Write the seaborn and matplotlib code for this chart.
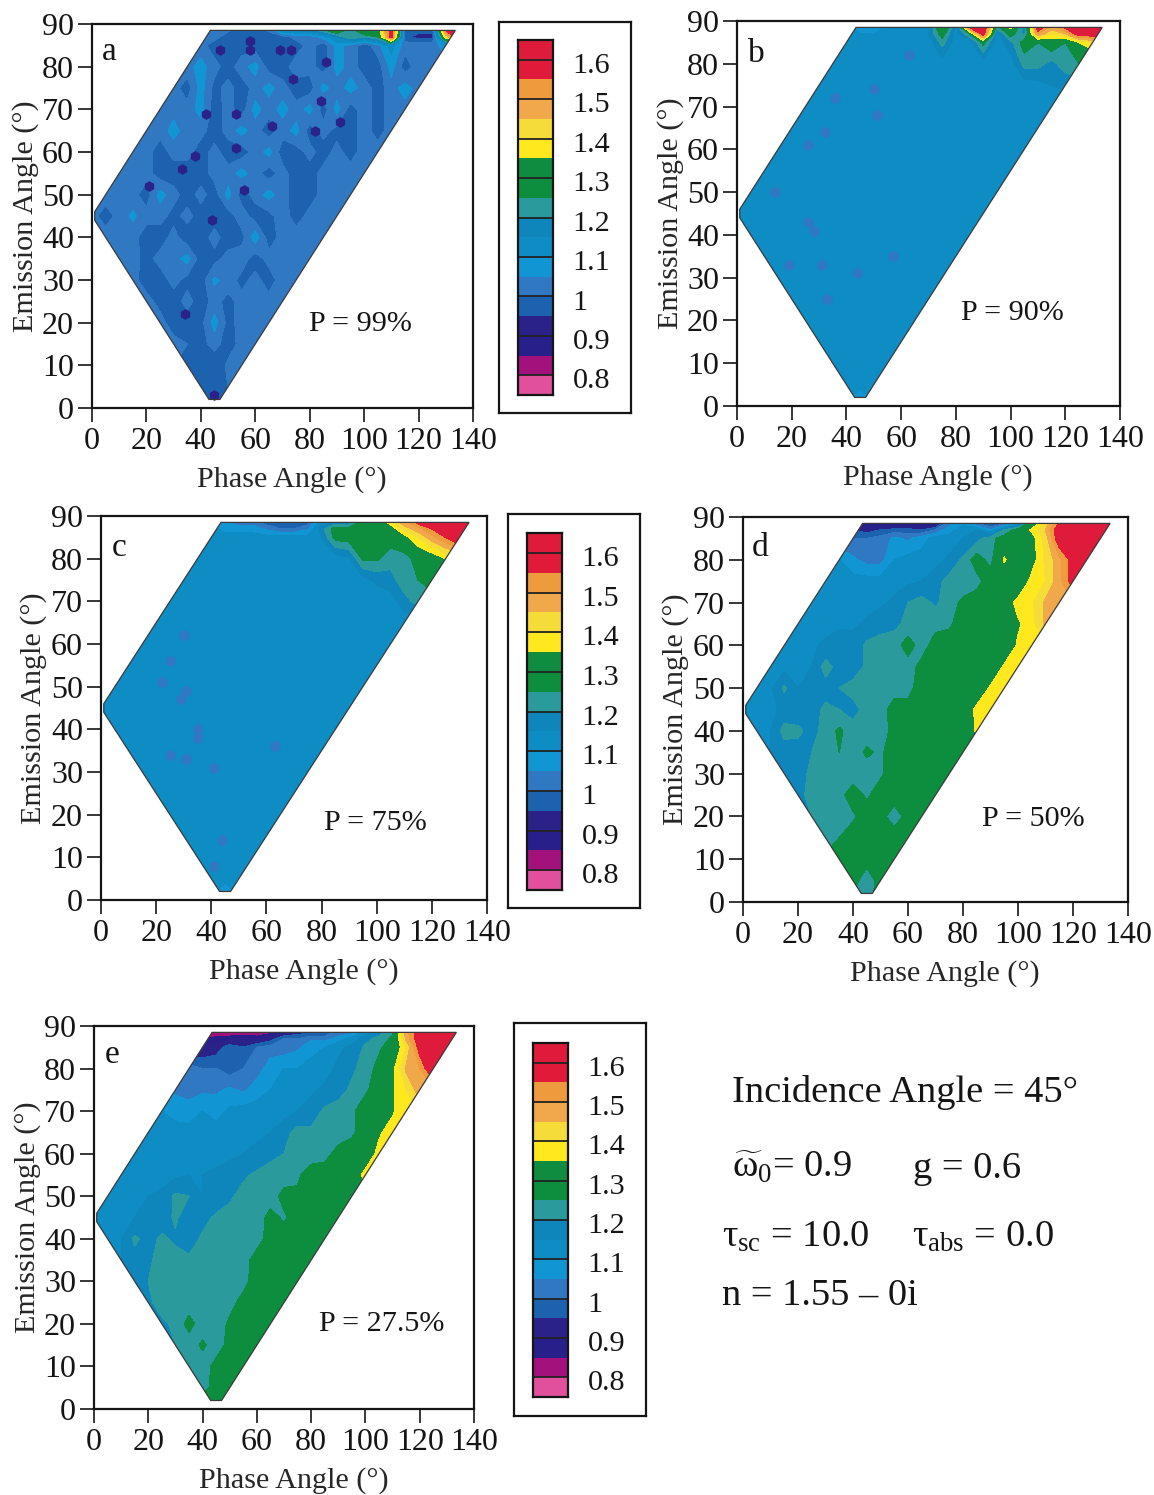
import numpy as np
import seaborn as sns
import matplotlib.pyplot as plt
from matplotlib.colors import ListedColormap
from matplotlib.patches import Polygon

# emission angles of the rows below, phase columns every 5 deg
emission = [2, 5, 10, 15, 20, 25, 30, 35, 40, 45, 50, 55, 60, 65, 70, 75, 80, 85, 87, 89]
phase = list(range(0, 145, 5))
incidence = 45

# ratio x 100, every row starts at its left edge of the wedge
panel_a = [
    [98, 94, 98],
    [98, 97, 100],
    [100, 97, 96, 101, 102],
    [102, 100, 98, 102, 97, 102, 103],
    [102, 97, 97, 98, 107, 98, 102, 103, 103],
    [102, 98, 97, 102, 97, 102, 98, 102, 103, 102, 103],
    [102, 97, 97, 102, 98, 97, 106, 103, 98, 102, 97, 103, 103],
    [103, 102, 98, 102, 103, 107, 97, 98, 102, 103, 97, 102, 103, 103, 103],
    [103, 103, 102, 97, 97, 102, 96, 97, 102, 97, 98, 108, 97, 102, 103, 103, 103],
    [102, 97, 102, 106, 102, 102, 98, 102, 97, 97, 97, 103, 97, 98, 103, 97, 102, 103, 103],
    [103, 102, 102, 97, 107, 102, 97, 102, 97, 107, 97, 102, 107, 102, 97, 97, 102, 103, 103],
    [103, 103, 102, 97, 97, 97, 97, 102, 102, 107, 102, 97, 102, 97, 97, 102, 103, 103, 103],
    [103, 102, 97, 102, 102, 97, 102, 97, 97, 102, 107, 97, 97, 102, 97, 102, 97, 103, 103],
    [103, 102, 107, 102, 102, 97, 102, 107, 102, 97, 102, 107, 97, 102, 98, 97, 103, 97, 103],
    [102, 103, 102, 107, 97, 102, 97, 107, 102, 107, 102, 107, 97, 107, 97, 103, 97, 103, 103],
    [102, 97, 107, 98, 102, 97, 102, 107, 102, 97, 97, 107, 102, 107, 103, 97, 103, 107, 103],
    [103, 107, 102, 97, 103, 107, 97, 97, 103, 102, 97, 107, 103, 97, 97, 107, 97, 103, 103],
    [102, 97, 97, 97, 97, 97, 97, 97, 102, 97, 107, 103, 97, 103, 112, 102, 103, 103, 107],
    [102, 102, 97, 97, 97, 97, 97, 102, 102, 107, 115, 125, 120, 125, 160, 97, 92, 92, 140, 165],
    [102, 102, 102, 97, 97, 102, 120, 120, 122, 128, 140, 125, 140, 130, 160, 100, 100, 100, 160, 165],
]
panel_b = [
    [112, 106, 112],
    [112, 112, 112],
    [112, 112, 112, 112, 112],
    [112, 112, 112, 112, 112, 112, 112],
    [112, 112, 112, 112, 112, 112, 112, 112, 112],
    [112, 112, 112, 112, 112, 112, 112, 112, 112, 112, 112],
    [112, 112, 112, 112, 112, 112, 112, 112, 112, 112, 112, 112, 112],
    [112, 112, 112, 112, 112, 112, 112, 112, 112, 112, 112, 112, 112, 112, 112],
    [112, 112, 112, 112, 112, 112, 112, 112, 112, 112, 112, 112, 112, 112, 112, 112, 112],
    [112, 112, 112, 112, 112, 112, 112, 112, 112, 112, 112, 112, 112, 112, 112, 112, 112, 112, 112],
    [112, 112, 112, 112, 112, 112, 112, 112, 112, 112, 112, 112, 112, 112, 112, 112, 112, 112, 112],
    [112, 112, 112, 112, 112, 112, 112, 112, 112, 112, 112, 112, 112, 112, 112, 112, 112, 112, 112],
    [112, 112, 112, 112, 112, 112, 112, 112, 112, 112, 112, 112, 112, 112, 112, 112, 112, 112, 112],
    [112, 112, 112, 112, 112, 112, 112, 112, 112, 112, 112, 112, 112, 112, 112, 112, 112, 112, 112],
    [112, 112, 112, 112, 112, 112, 112, 112, 112, 112, 112, 112, 112, 112, 112, 112, 112, 112, 112],
    [112, 112, 112, 112, 112, 112, 112, 112, 112, 112, 112, 112, 112, 112, 112, 112, 113, 115, 116],
    [112, 112, 112, 112, 112, 112, 112, 112, 112, 112, 112, 112, 112, 112, 122, 122, 118, 123, 125],
    [112, 112, 112, 112, 112, 112, 112, 122, 112, 112, 127, 112, 118, 128, 125, 130, 125, 135, 140],
    [112, 110, 110, 112, 112, 112, 115, 128, 112, 125, 160, 112, 128, 118, 150, 140, 145, 160, 160, 165],
    [112, 106, 106, 110, 112, 112, 112, 138, 115, 165, 165, 125, 140, 115, 165, 150, 160, 165, 165, 165],
]
panel_c = [
    [112, 106, 112],
    [112, 112, 112],
    [112, 112, 112, 112, 112],
    [112, 112, 112, 112, 112, 112, 112],
    [112, 112, 112, 112, 112, 112, 112, 112, 112],
    [112, 112, 112, 112, 112, 112, 112, 112, 112, 112, 112],
    [112, 112, 112, 112, 112, 112, 112, 112, 112, 112, 112, 112, 112],
    [112, 112, 112, 112, 112, 112, 112, 112, 112, 112, 112, 112, 112, 112, 112],
    [112, 112, 112, 112, 112, 112, 112, 112, 112, 112, 112, 112, 112, 112, 112, 112, 112],
    [112, 112, 112, 112, 112, 112, 112, 112, 112, 112, 112, 112, 112, 112, 112, 112, 112, 112, 112],
    [112, 112, 112, 112, 112, 112, 112, 112, 112, 112, 112, 112, 112, 112, 112, 112, 112, 112, 112],
    [112, 112, 112, 112, 112, 112, 112, 112, 112, 112, 112, 112, 112, 112, 112, 112, 112, 112, 112],
    [112, 112, 112, 112, 112, 112, 112, 112, 112, 112, 112, 112, 112, 112, 112, 112, 112, 112, 112],
    [112, 112, 112, 112, 112, 112, 112, 112, 112, 112, 112, 112, 112, 112, 112, 112, 112, 112, 112],
    [112, 112, 112, 112, 112, 112, 112, 112, 112, 112, 112, 112, 112, 112, 112, 112, 112, 118, 122],
    [112, 112, 112, 112, 112, 112, 112, 112, 112, 112, 112, 112, 112, 113, 116, 118, 123, 125, 128],
    [112, 112, 112, 112, 112, 112, 112, 112, 112, 112, 112, 114, 126, 126, 122, 122, 128, 130, 135],
    [112, 112, 112, 112, 112, 112, 112, 112, 115, 127, 128, 127, 130, 128, 132, 140, 148, 155, 165],
    [112, 108, 108, 108, 104, 100, 100, 104, 118, 128, 128, 126, 130, 130, 142, 148, 155, 165, 165, 165],
    [112, 104, 100, 100, 95, 92, 92, 95, 112, 112, 112, 125, 130, 140, 150, 160, 165, 165, 165, 165],
]
panel_d = [
    [125, 122, 128],
    [127, 122, 127],
    [126, 128, 127, 128, 128],
    [122, 125, 128, 128, 127, 128, 128],
    [120, 122, 122, 124, 128, 127, 122, 127, 128],
    [118, 122, 122, 123, 128, 124, 128, 128, 128, 128, 128],
    [116, 118, 121, 125, 122, 122, 122, 124, 128, 128, 128, 128, 128],
    [115, 117, 118, 120, 123, 125, 122, 126, 124, 128, 128, 128, 128, 128, 128],
    [113, 115, 122, 121, 118, 122, 126, 122, 122, 122, 127, 128, 128, 128, 128, 128, 136],
    [113, 113, 114, 116, 117, 118, 121, 120, 118, 122, 122, 128, 127, 128, 128, 128, 128, 137, 138],
    [113, 114, 121, 115, 116, 118, 120, 122, 122, 121, 122, 123, 128, 128, 128, 128, 128, 136, 138],
    [113, 113, 114, 115, 122, 118, 117, 121, 122, 122, 122, 127, 128, 128, 128, 128, 128, 136, 138],
    [113, 113, 114, 116, 118, 117, 121, 122, 122, 128, 122, 128, 128, 127, 128, 129, 128, 136, 138],
    [112, 112, 113, 114, 114, 116, 118, 119, 121, 122, 123, 124, 128, 128, 128, 130, 134, 138, 146],
    [112, 112, 112, 113, 113, 114, 116, 120, 122, 119, 123, 126, 128, 128, 131, 137, 139, 146, 150],
    [112, 112, 112, 112, 112, 113, 114, 115, 118, 122, 122, 123, 128, 128, 128, 137, 140, 148, 158],
    [110, 106, 103, 103, 110, 112, 112, 113, 116, 121, 128, 123, 136, 128, 132, 141, 148, 158, 162],
    [100, 100, 102, 106, 104, 108, 112, 112, 115, 118, 123, 128, 128, 132, 142, 160, 165, 165, 165],
    [95, 92, 95, 97, 97, 95, 100, 108, 112, 115, 105, 120, 128, 136, 145, 160, 165, 165, 165, 165],
    [90, 85, 78, 78, 78, 78, 80, 100, 108, 95, 90, 90, 100, 125, 140, 155, 165, 165, 165, 165],
]
panel_e = [
    [127, 128, 128],
    [123, 127, 128],
    [121, 122, 127, 128, 128],
    [120, 122, 126, 122, 127, 128, 128],
    [119, 121, 127, 122, 122, 126, 128, 128, 128],
    [119, 122, 121, 122, 123, 124, 123, 127, 128, 128, 128],
    [117, 120, 121, 122, 125, 122, 122, 122, 123, 128, 128, 128, 128],
    [115, 118, 119, 122, 122, 121, 122, 122, 122, 123, 127, 128, 128, 128, 128],
    [113, 115, 121, 118, 121, 119, 117, 121, 122, 122, 122, 123, 127, 128, 128, 128, 128],
    [113, 114, 115, 115, 116, 117, 121, 116, 118, 121, 122, 122, 122, 127, 124, 128, 128, 128, 128],
    [113, 113, 114, 115, 116, 121, 120, 115, 116, 119, 122, 122, 122, 127, 126, 128, 128, 128, 132],
    [112, 112, 113, 113, 114, 115, 115, 116, 117, 119, 121, 123, 122, 124, 128, 128, 128, 130, 137],
    [112, 112, 112, 112, 112, 113, 113, 114, 115, 116, 118, 120, 123, 122, 123, 127, 128, 130, 137],
    [112, 112, 112, 112, 112, 112, 112, 113, 114, 115, 118, 122, 121, 122, 122, 124, 128, 134, 138],
    [110, 108, 107, 110, 108, 111, 112, 112, 112, 113, 115, 117, 121, 122, 124, 128, 128, 134, 140],
    [104, 103, 104, 104, 106, 104, 108, 110, 112, 113, 114, 116, 118, 121, 124, 128, 134, 140, 148],
    [102, 100, 100, 97, 100, 102, 108, 110, 110, 112, 113, 116, 119, 122, 127, 133, 146, 150, 162],
    [90, 92, 98, 95, 100, 102, 102, 104, 108, 110, 114, 116, 121, 124, 128, 140, 158, 165, 165],
    [85, 87, 88, 90, 88, 92, 100, 100, 104, 103, 107, 112, 118, 122, 126, 146, 160, 165, 165, 165],
    [78, 78, 78, 78, 78, 80, 84, 90, 90, 92, 100, 100, 110, 115, 124, 148, 160, 165, 165, 165],
]
panel_names = ["a", "b", "c", "d", "e"]
panel_text = ["P = 99%", "P = 90%", "P = 75%", "P = 50%", "P = 27.5%"]

# small low patches that fall between the grid nodes
a_spot_phase = [47, 58, 69, 73, 86, 42, 53, 66, 82, 91, 53, 33, 21, 44, 34, 74, 84, 56, 38, 58, 45]
a_spot_emission = [84, 86, 84, 84, 81, 69, 69, 66, 65, 67, 61, 56, 52, 44, 22, 77, 72, 51, 59, 84, 3]
b_spot_phase = [63, 50, 51, 36, 32, 26, 26, 14, 31, 19, 44, 57, 33, 28]
b_spot_emission = [82, 74, 68, 72, 64, 61, 43, 50, 33, 33, 31, 35, 25, 41]
c_spot_phase = [30, 25, 22, 31, 35, 31, 25, 41, 44, 41, 63, 29, 35]
c_spot_emission = [62, 56, 51, 49, 38, 33, 34, 31, 14, 8, 36, 47, 40]

band_colors = [
    "#DF1B3C", "#E01A38", "#EE9B3E", "#F0A84A", "#F5DC38", "#FFE81E",
    "#0F8C40", "#0C8E3E", "#2A9A9C", "#0E86BC", "#0E8CC4", "#1295D3",
    "#3178C2", "#1C62AE", "#2A2288", "#28208A", "#A3127C", "#E0509C",
]
band_mid = [1.625, 1.575, 1.525, 1.475, 1.425, 1.375, 1.325, 1.275, 1.225,
            1.175, 1.125, 1.075, 1.025, 0.975, 0.925, 0.875, 0.825, 0.775]
band_labels = ["1.6", "1.5", "1.4", "1.3", "1.2", "1.1", "1", "0.9", "0.8"]

phase_ticks = [0, 20, 40, 60, 80, 100, 120, 140]
emission_ticks = [0, 10, 20, 30, 40, 50, 60, 70, 80, 90]

sns.set_theme(style="ticks")
plt.rcParams.update({
    "font.family": ["Liberation Serif", "DejaVu Serif"],
    "mathtext.fontset": "custom",
    "mathtext.rm": "Liberation Serif",
    "mathtext.it": "Liberation Serif",
    "text.color": "#151515",
    "xtick.color": "#151515",
    "ytick.color": "#151515",
    "axes.edgecolor": "#151515",
})

W, H = 1154, 1495
fig = plt.figure(figsize=(W / 100, H / 100), dpi=100)


def px_axes(left, top, right, bottom, **kw):
    return fig.add_axes([left / W, 1 - bottom / H, (right - left) / W, (bottom - top) / H], **kw)


def to_grid(rows):
    grid = np.zeros((len(emission), len(phase)))
    for i, (e, row) in enumerate(zip(emission, rows)):
        start = abs(e - incidence) // 5
        grid[i, :start] = row[0]
        grid[i, start:start + len(row)] = row
        grid[i, start + len(row):] = row[-1]
    return grid / 100


def wedge(e_min=2, e_max=88.5, g_min=1):
    return [(incidence - e_min, e_min), (incidence + e_min, e_min),
            (incidence + e_max, e_max), (e_max - incidence, e_max),
            (g_min, incidence + g_min), (g_min, incidence - g_min)]


def draw_panel(box, rows, name, label, name_xy, label_xy, spots=None, spot_color="#3178C2", spot_size=70):
    ax = px_axes(*box)
    levels = np.round(np.arange(0.75, 1.70, 0.05), 2)
    cs = ax.contourf(phase, emission, to_grid(rows), levels=levels,
                     colors=band_colors[::-1], extend="both")
    cs.set_edgecolor("face")
    cs.set_linewidth(0.2)
    outline = Polygon(wedge(), closed=True, fill=False, edgecolor="#3a3a3a", linewidth=0.9, zorder=3)
    ax.add_patch(outline)
    cs.set_clip_path(outline)
    if spots is not None:
        sns.scatterplot(x=spots[0], y=spots[1], ax=ax, color=spot_color, s=spot_size,
                        marker="h", linewidth=0, legend=False, zorder=2)
    ax.set_xlim(0, 140)
    ax.set_ylim(0, 90)
    ax.set_xticks(phase_ticks)
    ax.set_yticks(emission_ticks)
    ax.tick_params(length=10, width=1.2, labelsize=23)
    ax.tick_params(axis="y", pad=3)
    ax.tick_params(axis="x", pad=4)
    for s in ax.spines.values():
        s.set_visible(True)
        s.set_linewidth(1.6)
    ax.set_xlabel("Phase Angle (°)", fontsize=21.7)
    ax.set_ylabel("Emission Angle (°)", fontsize=21.7)
    ax.xaxis.set_label_coords(0.525, -0.151)
    ax.yaxis.set_label_coords(-0.139, 0.5)
    ax.text(*name_xy, name, fontsize=24)
    ax.text(*label_xy, label, fontsize=21.7)
    return ax


def draw_legend(box, bar):
    frame = px_axes(*box)
    frame.set_xticks([])
    frame.set_yticks([])
    for s in frame.spines.values():
        s.set_visible(True)
        s.set_linewidth(1.6)
    ax = px_axes(*bar)
    sns.heatmap(np.array(band_mid).reshape(-1, 1), ax=ax, cmap=ListedColormap(band_colors[::-1]),
                vmin=0.75, vmax=1.65, cbar=False, xticklabels=False)
    ax.hlines(range(1, 18, 2), 0, 1, color="#222222", linewidth=1.3)
    ax.set_yticks(np.arange(1, 18, 2) + 0.16)
    ax.set_yticklabels(band_labels, rotation=0)
    ax.yaxis.tick_right()
    ax.tick_params(axis="y", length=0, pad=14, labelsize=21.7)
    for s in ax.spines.values():
        s.set_visible(True)
        s.set_linewidth(1.6)


draw_panel((92, 24, 473, 408), panel_a, panel_names[0], panel_text[0], (3.7, 81.6), (79.6, 18),
           spots=(a_spot_phase, a_spot_emission), spot_color="#2A2288", spot_size=60)
draw_panel((737, 21, 1120, 406), panel_b, panel_names[1], panel_text[1], (4, 80.4), (82, 20),
           spots=(b_spot_phase, b_spot_emission))
draw_panel((101, 516, 487, 900), panel_c, panel_names[2], panel_text[2], (4, 80.6), (81, 16.4),
           spots=(c_spot_phase, c_spot_emission))
draw_panel((743, 517, 1128, 902), panel_d, panel_names[3], panel_text[3], (3.3, 81), (87, 17.8))
draw_panel((94, 1026, 474, 1409), panel_e, panel_names[4], panel_text[4], (4, 81.3), (83, 18.3))

draw_legend((499, 22, 631, 413), (518, 40, 553, 395))
draw_legend((508, 514, 640, 908), (527, 533, 562, 890))
draw_legend((514, 1023, 646, 1416), (533, 1043, 568, 1397))

info = [
    (732, 1102, "Incidence Angle = 45°"),
    (732, 1178, r"$\widetilde{\omega}_0$= 0.9"),
    (913, 1178, "g = 0.6"),
    (722, 1247, r"$\tau_{\mathrm{sc}}$ = 10.0"),
    (912, 1247, r"$\tau_{\mathrm{abs}}$ = 0.0"),
    (722, 1305, "n = 1.55 – 0i"),
]
for x, y, s in info:
    fig.text(x / W, 1 - y / H, s, fontsize=27.7, va="baseline")

fig.savefig("out.png", dpi=100)
